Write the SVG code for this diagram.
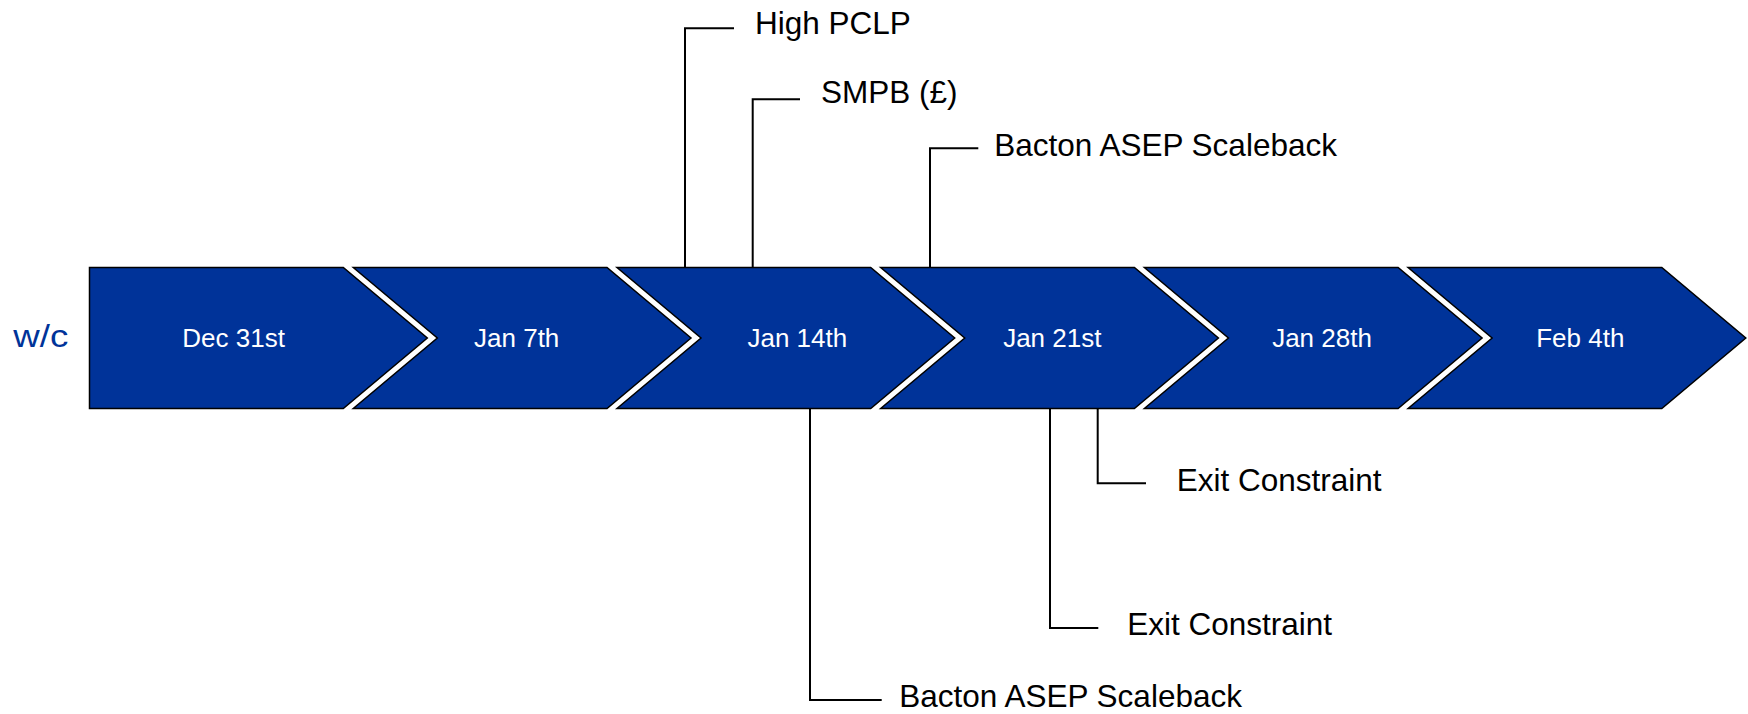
<svg xmlns="http://www.w3.org/2000/svg" width="1748" height="714" viewBox="0 0 1748 714">
<style>
.chev{fill:#003399;stroke:#000;stroke-width:1.5;stroke-linejoin:miter}
.cl{font-family:"Liberation Sans",Arial,sans-serif;font-size:26px;fill:#fff;text-anchor:middle}
.lbl{font-family:"Liberation Sans",Arial,sans-serif;font-size:31.5px;fill:#000}
.con{fill:none;stroke:#000;stroke-width:2}
.wc{font-family:"Liberation Sans",Arial,sans-serif;font-size:32px;fill:#003399}
</style>
<rect width="1748" height="714" fill="#fff"/>
<text class="wc" x="13.3" y="347" textLength="55" lengthAdjust="spacingAndGlyphs">w/c</text>
<g id="wk1">
<polygon class="chev" points="89.5,267.5 343.3,267.5 427.3,338 343.3,408.5 89.5,408.5"/>
<text class="cl" x="233.6" y="347">Dec 31st</text>
</g>
<g id="wk2">
<polygon class="chev" points="353.3,267.5 607,267.5 691,338 607,408.5 353.3,408.5 437.3,338"/>
<text class="cl" x="516.7" y="347">Jan 7th</text>
</g>
<g id="wk3">
<polygon class="chev" points="617,267.5 870.7,267.5 954.7,338 870.7,408.5 617,408.5 701,338"/>
<text class="cl" x="797.3" y="347">Jan 14th</text>
</g>
<g id="wk4">
<polygon class="chev" points="880.7,267.5 1134.4,267.5 1218.4,338 1134.4,408.5 880.7,408.5 964.7,338"/>
<text class="cl" x="1052.3" y="347">Jan 21st</text>
</g>
<g id="wk5">
<polygon class="chev" points="1144.4,267.5 1398.1,267.5 1482.1,338 1398.1,408.5 1144.4,408.5 1228.4,338"/>
<text class="cl" x="1322" y="347">Jan 28th</text>
</g>
<g id="wk6">
<polygon class="chev" points="1408.1,267.5 1661.8,267.5 1745.8,338 1661.8,408.5 1408.1,408.5 1492.1,338"/>
<text class="cl" x="1580.3" y="347">Feb 4th</text>
</g>
<g id="connectors">
<path class="con" d="M685,267 V28.3 H734"/>
<path class="con" d="M752.7,267 V99.3 H800"/>
<path class="con" d="M930,267 V148.3 H978.3"/>
<path class="con" d="M810,409 V700 H881.7"/>
<path class="con" d="M1050,409 V628 H1098.3"/>
<path class="con" d="M1097.7,409 V483.3 H1146"/>
</g>
<g id="lbl-high-pclp"><text class="lbl" x="755" y="34.3">High PCLP</text></g>
<g id="lbl-smpb"><text class="lbl" x="821" y="103.3">SMPB (£)</text></g>
<g id="lbl-bacton-top"><text class="lbl" x="994.3" y="155.7">Bacton ASEP Scaleback</text></g>
<g id="lbl-bacton-bottom"><text class="lbl" x="899.3" y="706.5">Bacton ASEP Scaleback</text></g>
<g id="lbl-exit-lower"><text class="lbl" x="1127.3" y="635">Exit Constraint</text></g>
<g id="lbl-exit-upper"><text class="lbl" x="1176.7" y="491">Exit Constraint</text></g>
</svg>
